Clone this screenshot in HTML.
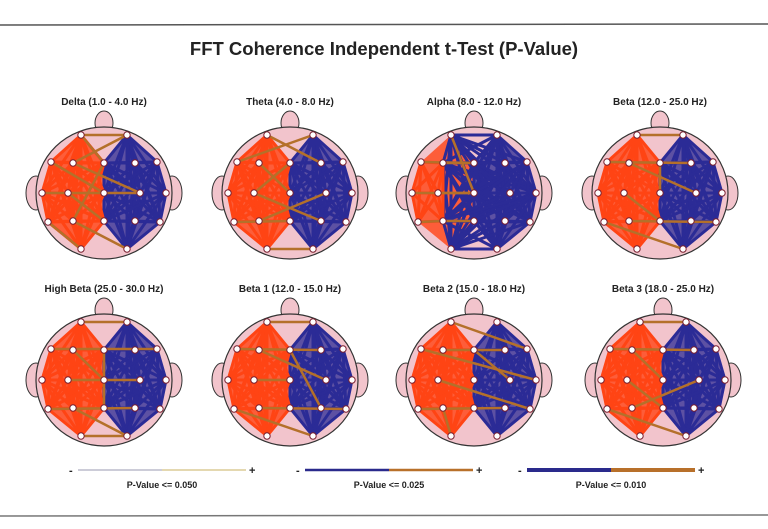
<!DOCTYPE html>
<html><head><meta charset="utf-8">
<style>
html,body{margin:0;padding:0;background:#fff;}
svg{display:block;font-family:"Liberation Sans",Arial,sans-serif;}
</style></head>
<body>
<svg id="chart" width="768" height="529" viewBox="0 0 768 529">
<line x1="0" y1="25" x2="768" y2="24" stroke="#555" stroke-width="1.5"/>
<line x1="0" y1="516" x2="768" y2="515" stroke="#777" stroke-width="1.5"/>
<text x="384" y="55" text-anchor="middle" font-size="18.5" font-weight="bold" fill="#222">FFT Coherence Independent t-Test  (P-Value)</text>
<g id="heads"></g>
<g id="legend"></g>
</svg>
<script>
const bandNames=["Delta (1.0 - 4.0 Hz)","Theta (4.0 - 8.0 Hz)","Alpha (8.0 - 12.0 Hz)","Beta (12.0 - 25.0 Hz)","High Beta (25.0 - 30.0 Hz)","Beta 1 (12.0 - 15.0 Hz)","Beta 2 (15.0 - 18.0 Hz)","Beta 3 (18.0 - 25.0 Hz)"];
const headCX=[104,290,474,660,104,290,474,663];
const headCY=[193,193,193,193,380,380,380,380];
const elecNames=["Fp1","Fp2","F7","F3","Fz","F4","F8","T3","C3","Cz","C4","T4","T5","P3","Pz","P4","T6","O1","O2"];
const elecX=[-23,23,-53,-31,0,31,53,-62,-36,0,36,62,-56,-31,0,31,56,-23,23];
const elecY=[-58,-58,-31,-30,-30,-30,-31,0,0,0,0,0,29,28,28,28,29,56,56];
const redMax=[0,0,-31,0,0,0,0,0];
const blueMin=[0,0,-31,0,0,0,0,0];
const brownLinks=[
 [[0,4],[1,3],[3,10],[4,13],[8,14],[12,17],[13,18],[2,9],[7,10],[0,1]],
 [[0,5],[1,2],[3,9],[8,15],[12,14],[17,18],[4,8],[13,10]],
 [[0,9],[3,4],[8,9],[13,14],[2,4],[12,13],[7,9]],
 [[0,1],[3,10],[4,9],[8,14],[12,18],[13,16],[2,5]],
 [[0,1],[2,6],[3,9],[4,14],[8,10],[12,15],[13,18],[17,18]],
 [[0,1],[2,5],[3,10],[4,15],[8,9],[13,16],[12,18]],
 [[0,6],[3,5],[4,10],[8,16],[12,15],[13,17],[2,11]],
 [[0,1],[3,9],[8,14],[12,18],[13,10],[2,5]]
];
const legendLabels=["P-Value <= 0.050","P-Value <= 0.025","P-Value <= 0.010"];
const legendWidths=[1,2.5,4];
const legendNeg=["#9a9ab0","#2a2a8c","#2a2a8c"];
const legendPos=["#c8b060","#b8702a","#b8702a"];

const NS="http://www.w3.org/2000/svg";
function mk(tag,attrs,parent){const e=document.createElementNS(NS,tag);for(const k in attrs)e.setAttribute(k,attrs[k]);parent.appendChild(e);return e;}
const heads=document.getElementById('heads');
for(let h=0;h<bandNames.length;h++){
  const cx=headCX[h],cy=headCY[h];
  const g=mk('g',{},heads);
  
  
  const t=mk('text',{x:cx,y:cy-88,'text-anchor':'middle','font-size':'10','font-weight':'bold',fill:'#222'},g);
  t.textContent=bandNames[h];
  
  
  const nose=mk('ellipse',{cx:cx,cy:cy-70,rx:9,ry:12,fill:'#f2c4cc',stroke:'#333','stroke-width':1},g);
  
  
  const e1=mk('ellipse',{cx:cx-68,cy:cy,rx:10,ry:17,fill:'#f2c4cc',stroke:'#333','stroke-width':1},g);
  
  
  const e2=mk('ellipse',{cx:cx+68,cy:cy,rx:10,ry:17,fill:'#f2c4cc',stroke:'#333','stroke-width':1},g);
  
  
  const head=mk('ellipse',{cx:cx,cy:cy,rx:68,ry:66,fill:'#f2c4cc',stroke:'#333','stroke-width':1.2},g);
  
  
  const px=i=>cx+elecX[i], py=i=>cy+elecY[i];
  const rb=mk('polygon',{points:[0,2,7,12,17,14,4].map(i=>px(i)+','+py(i)).join(' '),fill:'#ff4414',opacity:0.8},g);
  
  
  const bb=mk('polygon',{points:[1,4,14,18,16,11,6].map(i=>px(i)+','+py(i)).join(' '),fill:'#2b2b96',opacity:0.75},g);
  
  
  for(let i=0;i<19;i++)for(let j=i+1;j<19;j++){
    if(!(elecX[i]>=blueMin[h]&&elecX[j]>=blueMin[h]))continue;
    const l=mk('line',{x1:px(i),y1:py(i),x2:px(j),y2:py(j),stroke:'#2b2b96','stroke-width':3,'stroke-linecap':'round'},g);
    
    
  }
  for(let i=0;i<19;i++)for(let j=i+1;j<19;j++){
    if(!(elecX[i]<=redMax[h]&&elecX[j]<=redMax[h]))continue;
    if(elecX[i]===0&&elecX[j]===0&&blueMin[h]===0)continue;
    const l=mk('line',{x1:px(i),y1:py(i),x2:px(j),y2:py(j),stroke:'#ff4414','stroke-width':3,'stroke-linecap':'round'},g);
    
    
  }
  for(const [a,b] of brownLinks[h]){
    const l=mk('line',{x1:px(a),y1:py(a),x2:px(b),y2:py(b),stroke:'#b4702a','stroke-width':2.5},g);
    
    
  }
  for(let i=0;i<19;i++){
    const c=mk('circle',{cx:px(i),cy:py(i),r:3.2,fill:'#fff',stroke:'#7a2030','stroke-width':1},g);
    
    
  }
}
const lg=document.getElementById('legend');
const lx=[78,305,527];
for(let k=0;k<3;k++){
  const x=lx[k],w=168,y=470;
  const a=mk('line',{x1:x,y1:y,x2:x+w/2,y2:y,stroke:legendNeg[k],'stroke-width':legendWidths[k]},lg);
  
  
  const b=mk('line',{x1:x+w/2,y1:y,x2:x+w,y2:y,stroke:legendPos[k],'stroke-width':legendWidths[k]},lg);
  
  
  const m=mk('text',{x:x-9,y:y+4,'font-size':'11','font-weight':'bold',fill:'#222'},lg);
  m.textContent='-';
  
  
  const p=mk('text',{x:x+w+3,y:y+4,'font-size':'11','font-weight':'bold',fill:'#222'},lg);
  p.textContent='+';
  
  
  const t=mk('text',{x:x+w/2,y:y+18,'text-anchor':'middle','font-size':'9','font-weight':'bold',fill:'#222'},lg);
  t.textContent=legendLabels[k];
  
  
}
</script>
</body></html>
